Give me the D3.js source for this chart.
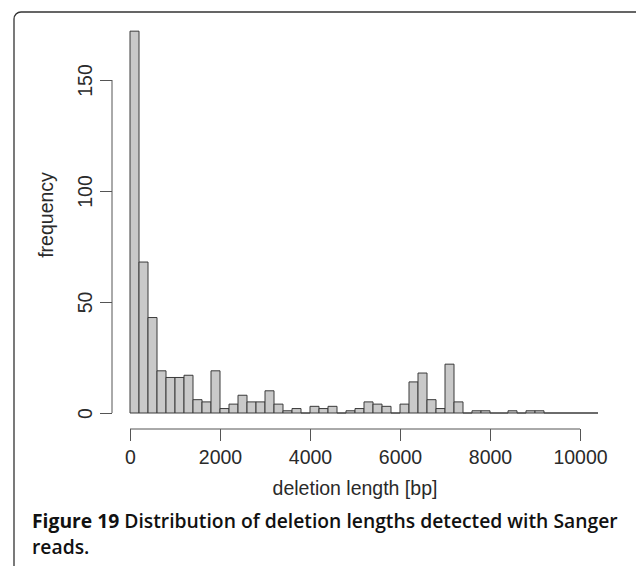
<!DOCTYPE html>
<html>
<head>
<meta charset="utf-8">
<title>deletion lengths</title>
<script src="https://cdn.jsdelivr.net/npm/d3@7"></script>
<style>
  body { margin: 0; background: #fff; }
  svg text { font-family: "Liberation Sans", Arial, sans-serif; fill: #2a2a2a; }
  .caption text, text.caption { font-family: "Open Sans", "Noto Sans", sans-serif; fill: #111; }
</style>
</head>
<body>
<svg id="graph" width="636" height="566"></svg>
<script>
// histogram counts, one per 200 bp bin starting at 0
var binWidth = 200
var counts = [172,68,43,19,16,16,17,6,5,19,
              2,4,8,5,5,10,4,1,2,0,
              3,2,3,0,1,2,5,4,3,0,
              4,14,18,6,2,22,5,0,1,1,
              0,0,1,0,1,1,0,0,0,0,0,0]
var xTicks = [0,2000,4000,6000,8000,10000]
var yTicks = [0,50,100,150]

var svg = d3.select("#graph")

// frame round the figure (cut off at right and bottom)
svg.append("rect")
  .attr("x", 14).attr("y", 12)
  .attr("width", 640).attr("height", 620)
  .attr("rx", 7)
  .attr("fill", "none")
  .attr("stroke", "#333")
  .attr("stroke-width", 1.3)

var x = d3.scaleLinear().domain([0,10000]).range([130,580])
var y = d3.scaleLinear().domain([0,150]).range([413,80])

var bins = counts.map((c,i) => ({x0: i*binWidth, x1: (i+1)*binWidth, n: c}))

// paths so that empty bins still show as a flat line
svg.selectAll("path.bar")
  .data(bins)
  .enter().append("path")
  .attr("class","bar")
  .attr("d", d => "M" + x(d.x0) + "," + y(0) + "V" + y(d.n) + "H" + x(d.x1) + "V" + y(0) + "Z")
  .attr("fill", "#c9c9c9")
  .attr("stroke", "#3a3a3a")
  .attr("stroke-width", 1)

// x axis
var xAxis = svg.append("g")
  .attr("transform", "translate(0,429)")
  .call(d3.axisBottom(x).tickValues(xTicks).tickSize(12).tickFormat(d3.format("d")))
xAxis.select(".domain").attr("stroke","#555").attr("d", "M" + x(0) + ",0H" + x(10000))
xAxis.selectAll(".tick line").attr("stroke","#555")
xAxis.selectAll("text")
  .attr("font-size", "19.5px")
  .attr("font-family", "Liberation Sans, Arial, sans-serif")
  .attr("fill", "#2a2a2a")
  .attr("dy", null).attr("y", 35)

// y axis
var yAxis = svg.append("g")
  .attr("transform", "translate(112,0)")
  .call(d3.axisLeft(y).tickValues(yTicks).tickSize(12).tickFormat(d3.format("d")))
yAxis.select(".domain").attr("stroke","#555").attr("d", "M0," + y(0) + "V" + y(150))
yAxis.selectAll(".tick line").attr("stroke","#555")
yAxis.selectAll("text")
  .attr("font-size", "19.5px")
  .attr("font-family", "Liberation Sans, Arial, sans-serif")
  .attr("fill", "#2a2a2a")
  .attr("x", null).attr("dy", null)
  .attr("text-anchor", "middle")
  .attr("transform", "translate(-20,0) rotate(-90)")

svg.append("text")
  .attr("x", 355).attr("y", 495)
  .attr("text-anchor","middle")
  .attr("font-size","19.5px")
  .text("deletion length [bp]")

svg.append("text")
  .attr("transform","translate(53,215) rotate(-90)")
  .attr("text-anchor","middle")
  .attr("font-size","19.5px")
  .text("frequency")

// caption
var cap = svg.append("text").attr("class","caption")
  .attr("x", 32).attr("y", 528).attr("font-size", "18px").attr("font-weight", 600)
cap.append("tspan").attr("font-weight","bold").text("Figure 19")
cap.append("tspan").text(" Distribution of deletion lengths detected with Sanger")
var w = cap.node().getComputedTextLength()
var fs = 18 * 586 / w
cap.attr("font-size", fs + "px")

svg.append("text").attr("class","caption")
  .attr("x", 32).attr("y", 554)
  .attr("font-size", fs + "px")
  .attr("font-weight", 600)
  .text("reads.")
</script>
</body>
</html>
